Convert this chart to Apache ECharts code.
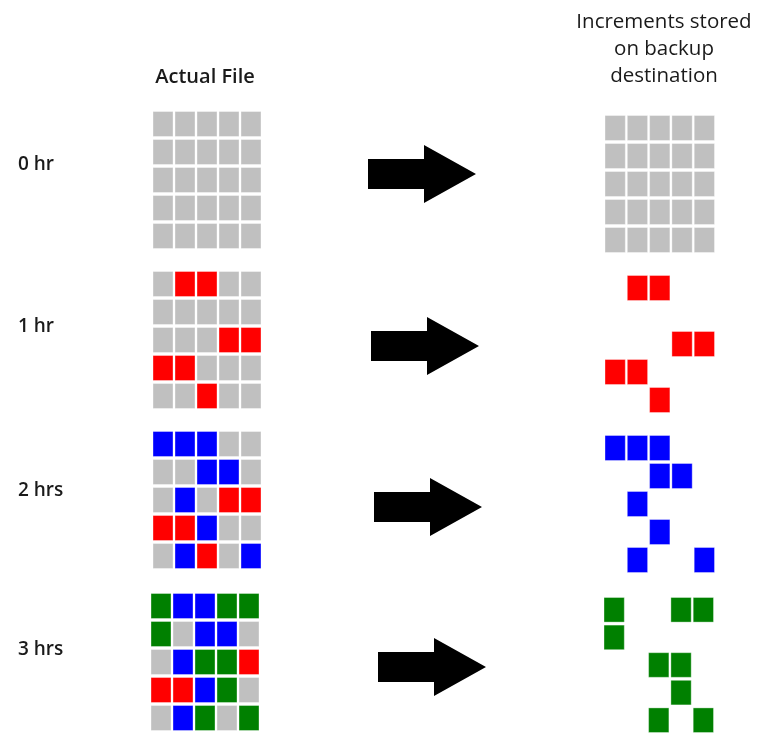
<!DOCTYPE html>
<html>
<head>
<meta charset="utf-8">
<script src="https://cdn.jsdelivr.net/npm/echarts@6/dist/echarts.min.js"></script>
<style>
html,body{margin:0;padding:0;background:#fff;}
#chart{width:759px;height:734px;}
</style>
</head>
<body>
<div id="chart"></div>
<script>
// ---- data ----
const hourLabels = ['0 hr', '1 hr', '2 hrs', '3 hrs'];
const leftTitle = 'Actual File';
const rightTitleLines = ['Increments stored', 'on backup', 'destination'];
// 0 = unchanged (grey), 1 = changed at 1 hr (red), 2 = changed at 2 hrs (blue), 3 = changed at 3 hrs (green), -1 = not stored
const blockColors = ['#c0c0c0', '#ff0000', '#0000ff', '#008000'];
const colIdx = ['0', '1', '2', '3', '4'];
const rowIdx = ['0', '1', '2', '3', '4'];

const actualFile0 = [[0,0,0,0,0],[0,0,0,0,0],[0,0,0,0,0],[0,0,0,0,0],[0,0,0,0,0]];
const actualFile1 = [[0,1,1,0,0],[0,0,0,0,0],[0,0,0,1,1],[1,1,0,0,0],[0,0,1,0,0]];
const actualFile2 = [[2,2,2,0,0],[0,0,2,2,0],[0,2,0,1,1],[1,1,2,0,0],[0,2,1,0,2]];
const actualFile3 = [[3,2,2,3,3],[3,0,2,2,0],[0,2,3,3,1],[1,1,2,3,0],[0,2,3,0,3]];

const increment0 = [[0,0,0,0,0],[0,0,0,0,0],[0,0,0,0,0],[0,0,0,0,0],[0,0,0,0,0]];
const increment1 = [[-1,1,1,-1,-1],[-1,-1,-1,-1,-1],[-1,-1,-1,1,1],[1,1,-1,-1,-1],[-1,-1,1,-1,-1]];
const increment2 = [[2,2,2,-1,-1],[-1,-1,2,2,-1],[-1,2,-1,-1,-1],[-1,-1,2,-1,-1],[-1,2,-1,-1,2]];
const increment3 = [[3,-1,-1,3,3],[3,-1,-1,-1,-1],[-1,-1,3,3,-1],[-1,-1,-1,3,-1],[-1,-1,3,-1,3]];

const actualFiles = [actualFile0, actualFile1, actualFile2, actualFile3];
const increments = [increment0, increment1, increment2, increment3];

// arrow outline in arrow-axis units
const arrowShape = [[0,-15],[56,-15],[56,-29],[108,0],[56,29],[56,15],[0,15]];

// ---- layout ----
const leftGridX = [152, 152, 152, 150];
const leftGridY = [110, 270, 430, 592];
const rightGridX = [604, 604, 604, 603];
const rightGridY = [114, 274, 434, 596];
const arrowX = [368, 371, 374, 378];
const arrowCY = [174, 346, 507, 667];
const labelY = [165, 327, 491, 650];
const rightTitleY = [22, 49, 76];

const chart = echarts.init(document.getElementById('chart'), null, {renderer: 'canvas'});

const grids = [], xAxes = [], yAxes = [], series = [];

function cellData(mat) {
  const out = [];
  mat.forEach((row, r) => row.forEach((v, c) => {
    if (v >= 0) out.push([c, r, v]);
  }));
  return out;
}

function renderCell(params, api) {
  const c = api.coord([api.value(0), api.value(1)]);
  const s = api.size([1, 1]);
  const w = s[0] - 2, h = s[1] - 3;
  return {
    type: 'rect',
    shape: {x: c[0] - w / 2, y: c[1] - h / 2, width: w, height: h},
    style: {fill: blockColors[api.value(2)], stroke: 'rgba(255,255,255,0.35)', lineWidth: 1}
  };
}

function addCellPanel(x, y, w, mat) {
  const gi = grids.length;
  grids.push({left: x, top: y, width: w, height: 140, containLabel: false});
  xAxes.push({type: 'category', gridIndex: gi, data: colIdx, show: false});
  yAxes.push({type: 'category', gridIndex: gi, data: rowIdx, inverse: true, show: false});
  series.push({
    type: 'custom', xAxisIndex: gi, yAxisIndex: gi,
    renderItem: renderCell, data: cellData(mat), silent: true, animation: false
  });
}

function addArrow(x, cy) {
  const gi = grids.length;
  grids.push({left: x, top: cy - 29, width: 108, height: 58});
  xAxes.push({type: 'value', gridIndex: gi, min: 0, max: 108, show: false});
  yAxes.push({type: 'value', gridIndex: gi, min: -29, max: 29, show: false});
  series.push({
    type: 'custom', xAxisIndex: gi, yAxisIndex: gi, silent: true, animation: false,
    data: [[0, 0]],
    renderItem: function (params, api) {
      return {
        type: 'polygon',
        shape: {points: arrowShape.map(p => api.coord(p))},
        style: {fill: '#000'}
      };
    }
  });
}

for (let i = 0; i < 4; i++) {
  addCellPanel(leftGridX[i], leftGridY[i], 110, actualFiles[i]);
  addCellPanel(rightGridX[i], rightGridY[i], 111.5, increments[i]);
  addArrow(arrowX[i], arrowCY[i]);
}

const font = '"Open Sans", "Noto Sans", sans-serif';
const graphic = [
  {type: 'text', x: 205, y: 77, style: {text: leftTitle, font: '600 20px ' + font, fill: '#1a1a1a', textAlign: 'center', textVerticalAlign: 'middle'}}
];
rightTitleLines.forEach((t, i) => {
  graphic.push({type: 'text', x: 664, y: rightTitleY[i], style: {text: t, font: '500 20.5px ' + font, fill: '#1a1a1a', textAlign: 'center', textVerticalAlign: 'middle'}});
});
hourLabels.forEach((t, i) => {
  graphic.push({type: 'text', x: 18, y: labelY[i], style: {text: t, font: '600 19px ' + font, fill: '#1a1a1a', textVerticalAlign: 'middle'}});
});

chart.setOption({
  animation: false,
  backgroundColor: '#fff',
  grid: grids,
  xAxis: xAxes,
  yAxis: yAxes,
  series: series,
  graphic: graphic
});
</script>
</body>
</html>
